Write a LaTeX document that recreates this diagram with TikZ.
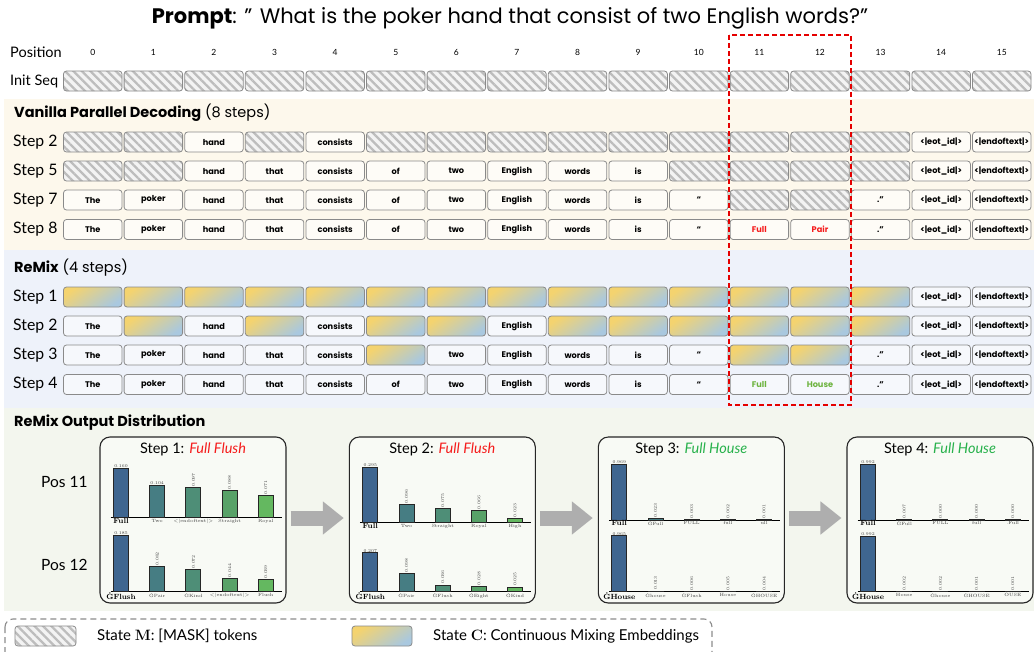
\documentclass[tikz,border=0pt]{standalone}
\usepackage{fontspec}
\newfontfamily\gill{Lato}
\newfontfamily\comic{Poppins}
\usetikzlibrary{patterns.meta,arrows.meta,calc}
\definecolor{vanbg}{HTML}{FDF8EC}
\definecolor{remixbg}{HTML}{EEF2FA}
\definecolor{outbg}{HTML}{F3F6EE}
\definecolor{cellborder}{HTML}{8A8A8A}
\definecolor{maskfill}{HTML}{F3F3F3}
\definecolor{maskline}{HTML}{BDBDBD}
\definecolor{gy}{HTML}{F4D36F}
\definecolor{gb}{HTML}{A9C8DF}
\definecolor{redtxt}{HTML}{F51B1B}
\definecolor{greentxt}{HTML}{6DB33F}
\definecolor{titlegreen}{HTML}{27B14B}
\definecolor{arrowgray}{HTML}{AEAEAE}
\definecolor{c0}{HTML}{3F6690}
\definecolor{c1}{HTML}{467D83}
\definecolor{c2}{HTML}{4E8E77}
\definecolor{c3}{HTML}{58A268}
\definecolor{c4}{HTML}{64B860}
\newcommand\cellx[1]{92.75+60.6*#1}
\newcommand\tokrow[4]{%
  \foreach \t [count=\i from 0] in {#4} {%
    \def\mm{M}\def\cc{C}%
    \ifx\t\mm \node[mask] (#1-\i) at ({\cellx{\i}},#2) {};%
    \else\ifx\t\cc \node[mix] (#1-\i) at ({\cellx{\i}},#2) {};%
    \else \node[#3] (#1-\i) at ({\cellx{\i}},#2) {\t};%
    \fi\fi
  }%
}
% #1 prefix, #2 left, #3 baseline, #4 scale, #5 data
\newcommand\chart[5]{%
  \draw[axisline] (#2+10.5,#3) -- (#2+182,#3);
  \foreach \v/\lab/\r [count=\i from 0] in {#5} {%
    \pgfmathsetmacro\xc{#2+21+36.2*\i}%
    \pgfmathsetmacro\h{max(\v*#4,0.4)}%
    \draw[barst, fill=c\i] (\xc-7.5,#3) rectangle (\xc+7.5,#3-\h);
    \def\hh{h}%
    \ifx\r\hh
      \node[valtxt, anchor=south] (#1v\i) at (\xc,#3-\h-0.3) {\v};
    \else
      \node[valtxt, rotate=90, anchor=west] (#1v\i) at (\xc,#3-\h-0.8) {\v};
    \fi
    \ifnum\i=0
      \node[firstlab, anchor=north] (#1l\i) at (\xc,#3+0.2) {\lab};
    \else
      \node[labtxt, anchor=north] (#1l\i) at (\xc,#3+1.2) {\lab};
    \fi
  }%
}
\begin{document}
\begin{tikzpicture}[x=1pt,y=-1pt,
  cellbase/.style={rectangle, rounded corners=3pt, draw=cellborder, line width=0.8pt,
    minimum width=58.5pt, minimum height=20pt, inner sep=0pt,
    font=\comic\bfseries\fontsize{8.2}{9}\selectfont},
  itok/.style={cellbase, fill=white},
  vtok/.style={cellbase, fill=vanbg!40!white},
  rtok/.style={cellbase, fill=remixbg!50!white},
  mask/.style={cellbase, preaction={fill=maskfill},
    preaction={pattern={Lines[angle=-45,distance=6pt,line width=2.3pt]}, pattern color=maskline}},
  mix/.style={cellbase, top color=gy, bottom color=gb, shading angle=35},
  rowlab/.style={anchor=west, inner sep=0pt, font=\gill\fontsize{15.8}{18}\selectfont},
  poslab/.style={inner sep=0pt, font=\gill\fontsize{8.5}{9}\selectfont},
  sectitle/.style={anchor=west, inner sep=0pt, font=\comic\fontsize{14.5}{16}\selectfont},
  panel/.style={draw=black!85, line width=1.1pt, rounded corners=10pt, fill=outbg!60!white,
    minimum width=186pt, minimum height=166pt, inner sep=0pt},
  ptitle/.style={inner sep=0pt, font=\gill\fontsize{14.5}{16}\selectfont},
  axisline/.style={draw=black, line width=0.9pt},
  barst/.style={draw=black!85, line width=0.9pt},
  valtxt/.style={inner sep=0.3pt, font=\rmfamily\fontsize{4.3}{5}\selectfont, text=black!75},
  labtxt/.style={inner sep=0.3pt, font=\rmfamily\fontsize{4.6}{5}\selectfont, text=black!75},
  firstlab/.style={inner sep=0.3pt, font=\rmfamily\bfseries\fontsize{7.5}{8}\selectfont, text=black},
  bigarrow/.style={draw=arrowgray, line width=15pt, -{Triangle[length=21pt,width=32pt]}},
  reddash/.style={draw=red!90!black, line width=1.5pt, dash pattern=on 5pt off 3pt},
  legendbox/.style={draw=black!45, line width=1.1pt, dash pattern=on 6pt off 4pt, rounded corners=8pt},
  legtxt/.style={anchor=west, inner sep=0pt, font=\gill\fontsize{15}{17}\selectfont},
  sidelab/.style={anchor=west, inner sep=0pt, font=\gill\fontsize{14.5}{16}\selectfont}
]
\useasboundingbox (0,0) rectangle (1034,651);
\fill[white] (0,0) rectangle (1034,651);
% section backgrounds
\fill[vanbg] (4,99) rectangle (1034,250);
\fill[remixbg] (4,250) rectangle (1034,408);
\fill[outbg] (4,408) rectangle (1034,611);

% prompt
\node[inner sep=0pt, font=\comic\fontsize{21}{24}\selectfont] (prompt) at (510,18)
  {\textbf{Prompt}: ” What is the poker hand that consist of two English words?”};

% position row
\node[sidelab] (poslabel) at (10,52) {Position};
\foreach \i in {0,...,15} \node[poslab] (pos\i) at ({\cellx{\i}},52) {\i};
\node[sidelab] (initlabel) at (10,81) {Init Seq};
\tokrow{init}{81}{itok}{M,M,M,M,M,M,M,M,M,M,M,M,M,M,M,M}

% vanilla
\node[sectitle] (vtitle) at (14,113) {\textbf{Vanilla Parallel Decoding} (8 steps)};
\node[rowlab] (vs2) at (13,142) {Step 2};
\node[rowlab] (vs5) at (13,171) {Step 5};
\node[rowlab] (vs7) at (13,200) {Step 7};
\node[rowlab] (vs8) at (13,229.5) {Step 8};
\tokrow{va}{142}{vtok}{M,M,hand,M,consists,M,M,M,M,M,M,M,M,M,<|eot\_id|>,<|endoftext|>}
\tokrow{vb}{171}{vtok}{M,M,hand,that,consists,of,two,English,words,is,M,M,M,M,<|eot\_id|>,<|endoftext|>}
\tokrow{vc}{200}{vtok}{The,poker,hand,that,consists,of,two,English,words,is,“,M,M,.”,<|eot\_id|>,<|endoftext|>}
\tokrow{vd}{229.5}{vtok}{The,poker,hand,that,consists,of,two,English,words,is,“,{\color{redtxt}Full},{\color{redtxt}Pair},.”,<|eot\_id|>,<|endoftext|>}

% remix
\node[sectitle] (rtitle) at (14,268) {\textbf{ReMix} (4 steps)};
\node[rowlab] (rs1) at (13,297) {Step 1};
\node[rowlab] (rs2) at (13,326) {Step 2};
\node[rowlab] (rs3) at (13,355) {Step 3};
\node[rowlab] (rs4) at (13,384.5) {Step 4};
\tokrow{ra}{297}{rtok}{C,C,C,C,C,C,C,C,C,C,C,C,C,C,<|eot\_id|>,<|endoftext|>}
\tokrow{rb}{326}{rtok}{The,C,hand,C,consists,C,C,English,C,C,C,C,C,C,<|eot\_id|>,<|endoftext|>}
\tokrow{rc}{355}{rtok}{The,poker,hand,that,consists,C,two,English,words,is,“,C,C,.”,<|eot\_id|>,<|endoftext|>}
\tokrow{rd}{384.5}{rtok}{The,poker,hand,that,consists,of,two,English,words,is,“,{\color{greentxt}Full},{\color{greentxt}House},.”,<|eot\_id|>,<|endoftext|>}

% red dashed highlight
\draw[reddash] (729,35) rectangle (851,405);

% output distribution
\node[sectitle] (otitle) at (14,423) {\textbf{ReMix Output Distribution}};
\node[anchor=west, inner sep=0pt, font=\gill\fontsize{15.5}{17}\selectfont] (pos11lab) at (41,482) {Pos 11};
\node[anchor=west, inner sep=0pt, font=\gill\fontsize{15.5}{17}\selectfont] (pos12lab) at (41,565) {Pos 12};

\node[panel] (p1) at (193,520) {};
\node[panel] (p2) at (442.3,520) {};
\node[panel] (p3) at (691.3,520) {};
\node[panel] (p4) at (940,520) {};

\node[ptitle] (t1) at (193,449) {Step 1: {\itshape\color{redtxt}Full Flush}};
\node[ptitle] (t2) at (442.3,449) {Step 2: {\itshape\color{redtxt}Full Flush}};
\node[ptitle] (t3) at (691.3,449) {Step 3: {\itshape\color{titlegreen}Full House}};
\node[ptitle] (t4) at (940,449) {Step 4: {\itshape\color{titlegreen}Full House}};

\chart{a}{100}{517.3}{302.7}{0.160/Full/h,0.104/Two/h,0.097/<|endoftext|>/v,0.088/Straight/v,0.071/Royal/v}
\chart{b}{100}{591.7}{302.7}{0.185/ĠFlush/h,0.082/ĠPair/v,0.072/ĠKind/v,0.044/<|endoftext|>/v,0.039/Flush/v}
\chart{c}{349.3}{522.7}{187.5}{0.295/Full/h,0.096/Two/v,0.075/Straight/v,0.066/Royal/v,0.023/High/v}
\chart{d}{349.3}{591.7}{187.5}{0.207/ĠFlush/h,0.098/ĠPair/v,0.036/ĠFlush/v,0.028/ĠEight/v,0.025/ĠKind/v}
\chart{e}{598.3}{520}{57.8}{0.969/Full/h,0.023/ĠFull/v,0.003/FULL/v,0.002/full/v,0.001/ull/v}
\chart{f}{598.3}{591.7}{57.8}{0.965/ĠHouse/h,0.013/Ġhouse/v,0.006/ĠFlush/v,0.005/House/v,0.004/ĠHOUSE/v}
\chart{g}{847}{520}{56.1}{0.992/Full/h,0.007/ĠFull/v,0.000/FULL/v,0.000/full/v,0.000/.Full/v}
\chart{h}{847}{591.7}{56.1}{0.992/ĠHouse/h,0.002/House/v,0.002/Ġhouse/v,0.001/ĠHOUSE/v,0.001/OUSE/v}

\draw[bigarrow] ([shift={(4,-2)}]p1.east) -- ([shift={(-5,-2)}]p2.west);
\draw[bigarrow] ([shift={(4,-2)}]p2.east) -- ([shift={(-5,-2)}]p3.west);
\draw[bigarrow] ([shift={(4,-2)}]p3.east) -- ([shift={(-5,-2)}]p4.west);

% legend
\draw[legendbox] (5,619) rectangle (712,672);
\node[mask, minimum width=61pt] (legm) at (45.5,636) {};
\node[legtxt] (legmt) at (97,636) {State {\rmfamily\bfseries M}: [MASK] tokens};
\node[mix, minimum width=60pt] (legc) at (382,636) {};
\node[legtxt] (legct) at (433,636) {State {\rmfamily\bfseries C}: Continuous Mixing Embeddings};
\end{tikzpicture}
\end{document}
